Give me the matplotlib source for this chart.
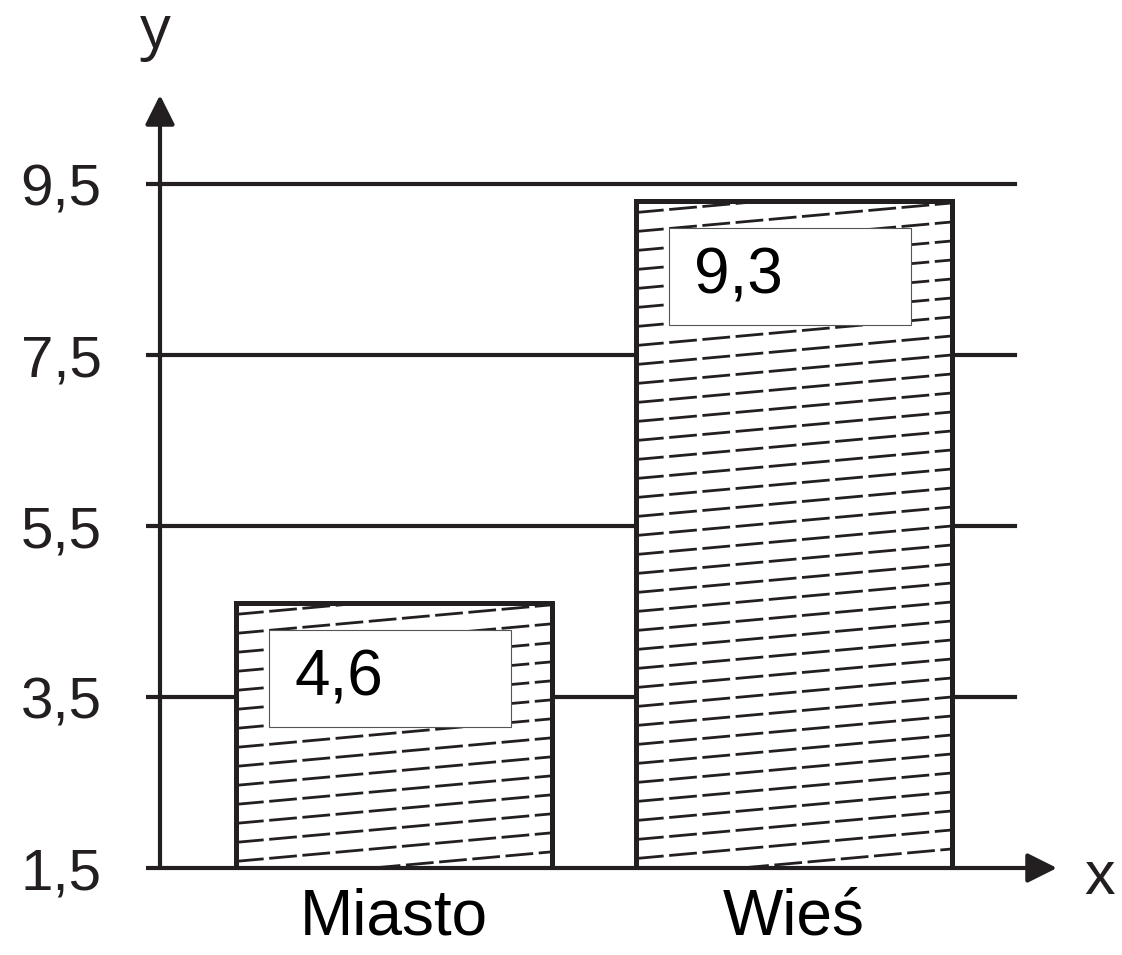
import matplotlib
matplotlib.use('Agg')
import matplotlib.pyplot as plt
import matplotlib.patches as mpatches
from matplotlib.collections import LineCollection
import numpy as np

plt.rcParams['font.family'] = ['Liberation Sans', 'DejaVu Sans']
plt.rcParams['lines.scale_dashes'] = False

# ─── data ─────────────────────────────────────────────────────────────────────
categories = ['Miasto', 'Wieś']
values = [4.6, 9.3]
value_labels = ['4,6', '9,3']
yticks = [1.5, 3.5, 5.5, 7.5, 9.5]
ytick_labels = ['1,5', '3,5', '5,5', '7,5', '9,5']

INK = '#231f20'
W, H = 1122, 955

fig = plt.figure(figsize=(W / 100, H / 100), dpi=100)
fig.patch.set_facecolor('white')
ax = fig.add_axes([160 / W, 87 / H, (1015 - 160) / W, (868 - 184) / H])
ax.set_xlim(-0.585, 1.5525)
ax.set_ylim(1.5, 9.5)

# pixel -> data helpers (figure size is fixed)
px_x = 1 / 400.0     # data x per pixel
px_y = 2 / 171.0     # data y per pixel

for s in ax.spines.values():
    s.set_visible(False)

# ─── grid lines ───────────────────────────────────────────────────────────────
for yv in yticks[1:]:
    ax.axhline(yv, color=INK, lw=3.0, zorder=1, clip_on=False)

ax.set_yticks(yticks)
ax.set_yticklabels(ytick_labels, fontsize=42)
ax.tick_params(axis='y', direction='out', length=10, width=3, color=INK,
               pad=32, labelcolor=INK)
x = np.arange(len(categories))
ax.set_xticks(x)
ax.set_xticklabels(categories, fontsize=46)
ax.tick_params(axis='x', length=0, pad=14, labelcolor='black')

# ─── bars ─────────────────────────────────────────────────────────────────────
bar_w = 0.79
bars = ax.bar(x, np.array(values) - 1.5, bottom=1.5, width=bar_w,
              facecolor='white', edgecolor=INK, linewidth=3.6, zorder=3)

# hand-made dashed, slightly rising hatch, clipped to each bar by hand
slope = (28 * px_y) / (310 * px_x)
spacing = 19 * px_y
for b in bars:
    L, R = b.get_x(), b.get_x() + b.get_width()
    B, T = b.get_y(), b.get_y() + b.get_height()
    offs = np.arange(T - spacing * 0.6, B - slope * (R - L), -spacing)
    segs = []
    for o in offs:
        x0 = max(L, L + (B - o) / slope)
        x1 = min(R, L + (T - o) / slope)
        if x1 > x0:
            segs.append([(x0, o + slope * (x0 - L)), (x1, o + slope * (x1 - L))])
    lc = LineCollection(segs, colors=INK, linewidths=2.0,
                        linestyles=[(0, (20, 4))], zorder=3.5)
    ax.add_collection(lc)
    # outline on top of hatch
    ax.add_patch(mpatches.Rectangle((L, B), R - L, T - B, fill=False,
                                    edgecolor=INK, lw=3.6, zorder=4))

# ─── value boxes ──────────────────────────────────────────────────────────────
for b, lab in zip(bars, value_labels):
    L = b.get_x()
    T = b.get_y() + b.get_height()
    bx = L + 33 * px_x
    bw = 242 * px_x
    bh = 97 * px_y
    by = T - 27 * px_y - bh
    ax.add_patch(mpatches.Rectangle((bx, by), bw, bh, facecolor='white',
                                    edgecolor='#555555', lw=0.8, zorder=5))
    ax.text(bx + 25 * px_x, by + bh / 2, lab, ha='left', va='center',
            fontsize=46, color='black', zorder=6)

# ─── axes with arrows ─────────────────────────────────────────────────────────
arrow = dict(arrowstyle='-|>,head_length=0.9,head_width=0.45',
             mutation_scale=20, lw=3, color=INK, shrinkA=0, shrinkB=0)
ax.annotate('', xy=(0, 773 / 684), xytext=(0, 0), xycoords='axes fraction',
            textcoords='axes fraction', arrowprops=arrow, zorder=6,
            annotation_clip=False)
ax.annotate('', xy=(897 / 855, 0), xytext=(0, 0), xycoords='axes fraction',
            textcoords='axes fraction', arrowprops=arrow, zorder=6,
            annotation_clip=False)

fig.text(155 / W, 1 - 32 / H, 'y', ha='center', va='center', fontsize=44,
         family=['Open Sans', 'DejaVu Sans'], color=INK)
fig.text(1100 / W, 1 - 878 / H, 'x', ha='center', va='center', fontsize=44,
         color=INK)

fig.savefig('out.png', dpi=100, facecolor='white')
plt.close(fig)
